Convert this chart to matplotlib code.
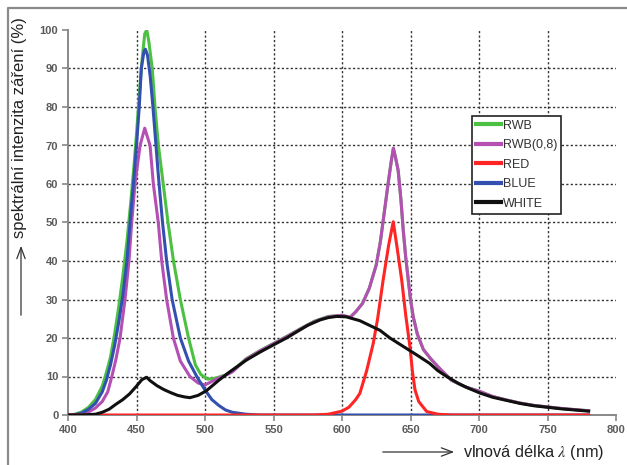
import matplotlib.pyplot as plt
from matplotlib.lines import Line2D

plt.rcParams['font.family'] = ['Liberation Sans', 'DejaVu Sans']
plt.rcParams['mathtext.fontset'] = 'stix'

# spektra (vlnová délka v nm, intenzita v %)
wl_rwb = [400, 405, 410, 415, 420, 425, 428, 431, 434, 437, 440, 443, 446, 448, 450, 452, 454, 456,
          457.5, 459, 461.5, 463.5, 466, 469.5, 473, 477, 482, 488, 493, 497, 502, 508, 515, 520,
          530, 540, 550, 560, 570, 580, 590, 600, 606, 610, 615, 620, 625, 628, 631, 634, 636, 637.5,
          639, 641, 643, 644.7, 646.5, 648.4, 650, 652, 655, 659.4, 665, 671.5, 680, 690, 700, 710,
          720, 730, 740, 750, 760, 770, 780]
rwb = [0, 0.2, 0.8, 2, 4, 7.5, 11, 15, 21, 28, 36, 45, 56, 64, 73, 83, 92, 99,
       100, 97, 90, 80, 70, 60, 50, 40, 30, 20, 13, 10.5, 9.3, 9.6, 10.4, 11.5,
       14.6, 16.7, 18.6, 20.5, 22.5, 24.4, 25.6, 25.9, 25.4, 26.8, 29, 33, 39, 45, 53, 61, 66, 69.3,
       67, 63.5, 56, 48, 41, 35, 30, 25.5, 21, 17, 14.5, 12, 9, 7.3, 6.2, 4.8,
       3.9, 3.1, 2.5, 2.1, 1.7, 1.4, 1.1]

wl_rwb08 = [400, 405, 410, 415, 420, 425, 429, 432, 435, 438, 441.6, 444.5, 446.5, 448.9, 452.6, 456,
            459.9, 462.3, 465.9, 468.4, 472, 476.9, 482, 489, 495, 500, 506, 510, 515, 520,
            530, 540, 550, 560, 570, 580, 590, 600, 606, 610, 615, 620, 625, 628, 631, 634, 636, 637.5,
            639, 641, 643, 644.7, 646.5, 648.4, 650, 652, 655, 659.4, 665, 671.5, 680, 690, 700, 710,
            720, 730, 740, 750, 760, 770, 780]
rwb08 = [0, 0.1, 0.3, 0.8, 1.8, 3.5, 6, 10, 14.5, 20, 30, 40, 50, 60, 70, 74.5,
         70, 60, 50, 40, 30, 20, 14, 10, 8.3, 7.8, 8.9, 9.6, 10.3, 11.2,
         14.5, 16.6, 18.5, 20.4, 22.4, 24.3, 25.5, 25.9, 25.4, 26.8, 29, 33, 39, 45, 53, 61, 66, 69.3,
         67, 63.5, 56, 48, 41, 35, 30, 25.5, 21, 17, 14.5, 12, 9, 7.3, 6.2, 4.8,
         3.9, 3.1, 2.5, 2.1, 1.7, 1.4, 1.1]

wl_red = [400, 580, 590, 600, 605, 610, 613, 618, 622.8, 626, 630, 634, 637.4, 640, 643.6, 646.5,
          649.6, 651.5, 653.3, 656, 661.8, 670, 680, 780]
red = [0, 0, 0.2, 1, 2, 4, 5.6, 11.5, 18.6, 25, 35, 44, 50.2, 44, 35, 26,
       17.7, 11, 6.5, 3.5, 0.9, 0.2, 0, 0]

wl_blue = [400, 405, 410, 415, 420, 425, 428, 431, 434, 437, 440, 443, 446, 448, 450, 452, 453.5,
           455.5, 456.5, 458, 460, 462, 464, 466, 469, 472, 476, 482, 488, 494, 500, 505, 510, 515,
           520, 530, 540, 780]
blue = [0, 0.1, 0.5, 1.5, 3, 6, 9, 13, 18, 24, 31, 40, 53, 61, 70, 80, 90,
        94.5, 95, 93.5, 88, 80, 71, 62, 50, 40, 30, 20, 14, 10, 6.5, 4, 2.5, 1.3,
        0.7, 0.2, 0, 0]

wl_white = [400, 410, 420, 425, 430, 435, 440, 445, 450, 454, 457.4, 460, 465, 470, 475, 480, 485,
            489, 495, 501, 506, 510, 518, 530.4, 540, 549.9, 560, 567, 575, 584, 590, 596, 603, 608,
            613, 620, 627.7, 635, 647, 655, 664, 670, 676.4, 685, 692, 700.7, 710, 720, 730, 740,
            750, 760, 770, 780]
white = [0, 0, 0.2, 0.7, 1.5, 2.8, 4, 5.5, 7.5, 9.2, 9.8, 8.9, 7.6, 6.6, 5.8, 5.1, 4.7,
         4.5, 5.1, 6.3, 7.8, 9, 11.2, 14.3, 16.3, 18.2, 20.1, 21.6, 23.3, 24.7, 25.3, 25.6, 25.5, 25,
         24.5, 23.3, 22, 20, 17.3, 15.5, 13.4, 11.5, 10, 8.2, 7, 5.7, 4.6, 3.8, 3, 2.4,
         2, 1.6, 1.3, 1.0]

x_ticks = [400, 450, 500, 550, 600, 650, 700, 750, 800]
y_ticks = [0, 10, 20, 30, 40, 50, 60, 70, 80, 90, 100]

fig = plt.figure(figsize=(6.27, 4.65), dpi=100)
ax = fig.add_axes([68 / 627, 1 - 415 / 465, 548 / 627, 385 / 465])

# mřížka - jen vnitřní čáry
ax.hlines(y_ticks[1:-1], x_ticks[0], x_ticks[-1], colors='#333333', linewidth=1.0,
          linestyles=(0, (1.6, 1.6)), zorder=1)
ax.vlines(x_ticks[1:-1], y_ticks[0], y_ticks[-1], colors='#333333', linewidth=1.0,
          linestyles=(0, (1.6, 1.6)), zorder=1)

lw = 2.2
ax.plot(wl_rwb, rwb, color='#4cc043', lw=lw, label='RWB', zorder=3)
ax.plot(wl_rwb08, rwb08, color='#b450b4', lw=lw, label='RWB(0,8)', zorder=4)
ax.plot(wl_blue, blue, color='#3350b0', lw=lw, label='BLUE', zorder=5)
ax.plot(wl_red, red, color='#ff2525', lw=lw, label='RED', zorder=6)
ax.plot(wl_white, white, color='#101010', lw=lw, label='WHITE', zorder=7)

ax.set_xlim(400, 800)
ax.set_ylim(0, 100)
ax.set_xticks(x_ticks)
ax.set_yticks(y_ticks)
ax.tick_params(axis='both', direction='out', length=4, width=1.2, color='#888888',
               labelsize=8, labelcolor='#5a5a5a', pad=3)
for lab in ax.get_xticklabels() + ax.get_yticklabels():
    lab.set_fontweight('bold')
for s in ['top', 'right']:
    ax.spines[s].set_visible(False)
for s in ['left', 'bottom']:
    ax.spines[s].set_color('#888888')
    ax.spines[s].set_linewidth(1.4)

# legenda v pořadí originálu
h = {l.get_label(): l for l in ax.get_lines()}
order = ['RWB', 'RWB(0,8)', 'RED', 'BLUE', 'WHITE']
leg = ax.legend([h[k] for k in order], order, loc='upper left',
                bbox_to_anchor=(472 / 627, 1 - 116 / 465), bbox_transform=fig.transFigure,
                borderaxespad=0, fontsize=9, frameon=True, fancybox=False, framealpha=1,
                edgecolor='#222222', labelspacing=0.6, handlelength=2.0, handletextpad=0.15,
                borderpad=0.3)
leg.get_frame().set_linewidth(1.2)
for t in leg.get_texts():
    t.set_color('#333333')
for l in leg.get_lines():
    l.set_linewidth(3)

# popisky os se šipkami
fig.text(20 / 627, 1 - 128 / 465, 'spektrální intenzita záření (%)', rotation=90,
         ha='center', va='center', fontsize=12, color='#222222')
fig.add_artist(plt.Annotation('', xy=(21 / 627, 1 - 243 / 465), xytext=(21 / 627, 1 - 318 / 465),
                              xycoords='figure fraction', textcoords='figure fraction',
                              arrowprops=dict(arrowstyle='->,head_length=0.8,head_width=0.3',
                                              color='#333333', lw=0.9)))
fig.text(463 / 627, 1 - 452 / 465, r'vlnová délka $\lambda$ (nm)', ha='left', va='center',
         fontsize=11.7, color='#222222')
fig.add_artist(plt.Annotation('', xy=(457 / 627, 1 - 452 / 465), xytext=(380 / 627, 1 - 452 / 465),
                              xycoords='figure fraction', textcoords='figure fraction',
                              arrowprops=dict(arrowstyle='->,head_length=0.8,head_width=0.3',
                                              color='#333333', lw=0.9)))

# rámeček obrázku (jen horní a levá hrana)
fig.add_artist(Line2D([8 / 627, 8 / 627, 1], [0, 1 - 8 / 465, 1 - 8 / 465],
                      transform=fig.transFigure, color='#8a8a8a', lw=1.6))

fig.savefig('out.png', dpi=100)
